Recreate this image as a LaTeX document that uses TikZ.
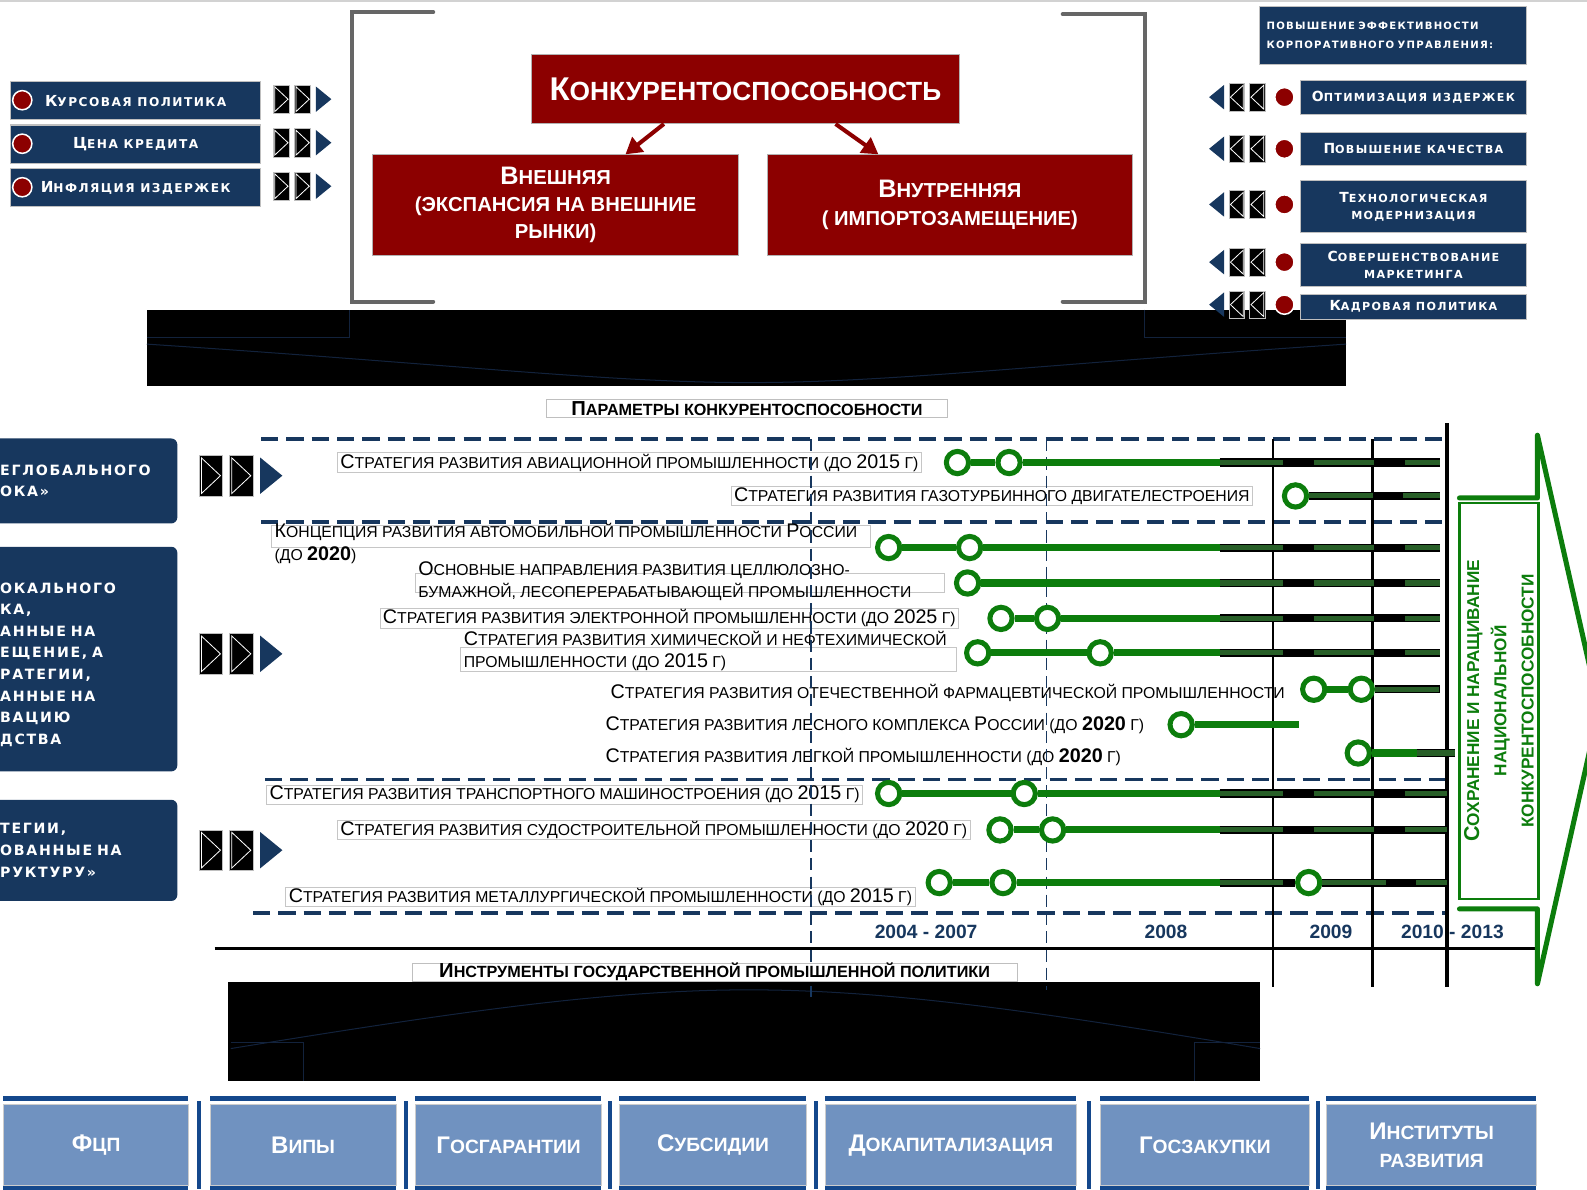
\documentclass[tikz,border=0pt]{standalone}
\usepackage{fontspec}
\setmainfont{Liberation Sans}
\newfontfamily\widefont{DejaVu Sans}[LetterSpace=12]
\usetikzlibrary{calc,arrows.meta}
\definecolor{dnavy}{RGB}{23,55,94}
\definecolor{dred}{RGB}{140,0,0}
\definecolor{lgreen}{RGB}{12,125,12}
\definecolor{hgreen}{RGB}{40,95,40}
\definecolor{steel}{RGB}{112,146,192}
\definecolor{barblue}{RGB}{20,72,140}
\definecolor{faint}{RGB}{18,34,60}
\newcommand\capx[1]{\scalebox{1.25}{#1}}
\tikzset{
    navbox/.style={fill=dnavy, draw=gray!50, line width=1, text=white, align=center, inner sep=0, anchor=north west, font=\widefont\bfseries\fontsize{11}{17}\selectfont},
    sidebox/.style={fill=dnavy, rounded corners=6, text=white, align=left, anchor=north west, inner xsep=10, inner ysep=0, text width=165, font=\widefont\bfseries\fontsize{14}{21.3}\selectfont},
    redbox/.style={fill=dred, draw=gray!60, line width=1, text=white, align=center, inner sep=0, font=\bfseries\fontsize{20}{27}\selectfont},
    rdot/.style={circle, fill=dred, draw=white, line width=1.5, minimum size=19, inner sep=0},
    gdot/.style={circle, draw=lgreen, line width=5, fill=white, minimum size=22, inner sep=0},
    lbl/.style={draw=gray!45, line width=0.6, fill=white, anchor=west, inner xsep=3, inner ysep=1, font=\fontsize{15.6}{22}\selectfont},
    frame/.style={draw=gray!45, line width=0.6, fill=white},
    gline/.style={lgreen, line width=7},
    hline/.style={black, line width=8, postaction={draw=hgreen, line width=5, dash pattern=on 63pt off 30pt on 60pt off 30pt on 60pt}},
    hdash/.style={dnavy, line width=3.5, dash pattern=on 17pt off 8pt},
    vdash/.style={dnavy, line width=1.8, dash pattern=on 12pt off 6pt},
    rarrow/.style={dred, line width=4, -{Triangle[length=16pt, width=18pt]}},
    yrs/.style={text=dnavy, font=\bfseries\fontsize{19}{20}\selectfont},
    plabel/.style={draw=gray!50, fill=white, inner sep=0, minimum height=18, font=\bfseries\fontsize{16}{18}\selectfont},
    toolbox/.style={fill=steel, draw=gray!40, line width=1, text=white, align=center, anchor=north west, minimum height=80, inner sep=0, font=\bfseries\fontsize{19}{28}\selectfont},
    fwd/.pic={
        \fill[black, draw=gray!50, line width=0.6] (0,-0.5) rectangle (0.57,0.5);
        \fill[black, draw=gray!50, line width=0.6] (0.75,-0.5) rectangle (1.32,0.5);
        \draw[white, line width=0.8] (0.05,-0.44) -- (0.52,0) -- (0.05,0.44) -- cycle;
        \draw[white, line width=0.8] (0.80,-0.44) -- (1.27,0) -- (0.80,0.44) -- cycle;
        \fill[dnavy] (1.5,-0.45) -- (2.05,0) -- (1.5,0.45) -- cycle;
    }
}

\begin{document}
\begin{tikzpicture}[x=1pt,y=-1pt]
\useasboundingbox (0,0) rectangle (1568,1175);
\clip (0,0) rectangle (1568,1175);
\draw[gray!35, line width=2] (0,1) -- (1568,1);

\fill[black] (145,306) rectangle (1330,381);
\draw[faint, line width=1] (145,333) -- (345,333) -- (345,306);
\draw[faint, line width=1] (1131,306) -- (1131,333) -- (1330,333);
\draw[faint, line width=1] (145,340) .. controls (450,360) and (600,378) .. (740,378) .. controls (880,378) and (1030,360) .. (1330,340);
\fill[black] (225,970) rectangle (1245,1068);
\draw[faint, line width=1] (228,1030) -- (300,1030) -- (300,1068);
\draw[faint, line width=1] (1245,1030) -- (1180,1030) -- (1180,1068);
\draw[faint, line width=1] (228,1036) .. controls (450,1000) and (600,978) .. (740,978) .. controls (880,978) and (1030,1000) .. (1245,1036);

\draw[gray!80!black, line width=4, line cap=round] (428,12) -- (348,12) -- (348,298) -- (428,298);
\draw[gray!80!black, line width=4, line cap=round] (1050,14) -- (1131,14) -- (1131,298) -- (1050,298);

\node[navbox, minimum width=247, minimum height=38, font=\widefont\bfseries\fontsize{12}{14}\selectfont] (kurs) at (10,80) {\capx{К}УРСОВАЯ ПОЛИТИКА};
\node[navbox, minimum width=247, minimum height=38, font=\widefont\bfseries\fontsize{12}{14}\selectfont] (kred) at (10,123) {\capx{Ц}ЕНА КРЕДИТА};
\node[navbox, minimum width=247, minimum height=38, font=\widefont\bfseries\fontsize{12}{14}\selectfont] (infl) at (10,166) {\capx{И}НФЛЯЦИЯ ИЗДЕРЖЕК};
\node[rdot] (r1) at (22,99) {};
\node[rdot] (r2) at (22,142) {};
\node[rdot] (r3) at (22,185) {};
\pic[scale=28] at (270,98) {fwd};
\pic[scale=28] at (270,141) {fwd};
\pic[scale=28] at (270,184) {fwd};

\node[redbox, minimum width=423, minimum height=68, font=\bfseries\fontsize{26}{28}\selectfont] (konk) at (736.5,88) {\capx{К}ОНКУРЕНТОСПОСОБНОСТЬ};
\node[redbox, minimum width=362, minimum height=99] (vnesh) at (549,202.5) {\capx{В}НЕШНЯЯ\\(ЭКСПАНСИЯ НА ВНЕШНИЕ\\РЫНКИ)};
\node[redbox, minimum width=361, minimum height=99] (vnutr) at (938.5,202.5) {\capx{В}НУТРЕННЯЯ\\( ИМПОРТОЗАМЕЩЕНИЕ)};
\draw[rarrow] ($(konk.south west)!0.31!(konk.south east)$) -- ($(vnesh.north west)!0.69!(vnesh.north east)$);
\draw[rarrow] ($(konk.south west)!0.71!(konk.south east)$) -- ($(vnutr.north west)!0.305!(vnutr.north east)$);

\node[navbox, minimum width=264, minimum height=57, text width=250, align=left, font=\widefont\bfseries\fontsize{10}{18}\selectfont] (corp) at (1244,6) {ПОВЫШЕНИЕ ЭФФЕКТИВНОСТИ\\КОРПОРАТИВНОГО УПРАВЛЕНИЯ:};
\node[navbox, minimum width=224, minimum height=34] (opt) at (1284,79) {\capx{О}ПТИМИЗАЦИЯ ИЗДЕРЖЕК};
\node[navbox, minimum width=224, minimum height=33] (kach) at (1284,130) {\capx{П}ОВЫШЕНИЕ КАЧЕСТВА};
\node[navbox, minimum width=224, minimum height=51] (tech) at (1284,178) {\capx{Т}ЕХНОЛОГИЧЕСКАЯ\\МОДЕРНИЗАЦИЯ};
\node[navbox, minimum width=224, minimum height=43] (mark) at (1284,240) {\capx{С}ОВЕРШЕНСТВОВАНИЕ\\МАРКЕТИНГА};
\node[navbox, minimum width=224, minimum height=25] (kadr) at (1284,290) {\capx{К}АДРОВАЯ ПОЛИТИКА};
\foreach \y [count=\i] in {96,147,202,259,301} {
    \node[rdot] (q\i) at (1269,\y) {};
    \pic[scale=27, xscale=-1] at (1250,\y) {fwd};
}

\node[plabel, minimum width=396] (param) at (738,403.5) {\capx{П}АРАМЕТРЫ КОНКУРЕНТОСПОСОБНОСТИ};

\node[sidebox, minimum height=84] (glob) at (-10,433) {ЕГЛОБАЛЬНОГО\\ОКА»};
\node[sidebox, minimum height=222] (lok) at (-10,540) {\\ОКАЛЬНОГО\\КА,\\АННЫЕ НА\\ЕЩЕНИЕ, А\\РАТЕГИИ,\\АННЫЕ НА\\ВАЦИЮ\\ДСТВА};
\node[sidebox, minimum height=100] (infr) at (-10,790) {ТЕГИИ,\\ОВАННЫЕ НА\\РУКТУРУ»};
\pic[scale=40] at (197,470) {fwd};
\pic[scale=40] at (197,646) {fwd};
\pic[scale=40] at (197,840) {fwd};

\draw[hdash] (258,434) -- (1428,434);
\draw[hdash] (258,516) -- (1428,516);
\draw[hdash] (262,770) -- (1428,770);
\draw[hdash] (250,902) -- (1428,902);

\node[lbl] (s1) at (333,457) {\capx{С}ТРАТЕГИЯ РАЗВИТИЯ АВИАЦИОННОЙ ПРОМЫШЛЕННОСТИ (ДО \capx{2015} Г)};
\node[lbl] (s2) at (722,490) {\capx{С}ТРАТЕГИЯ РАЗВИТИЯ ГАЗОТУРБИННОГО ДВИГАТЕЛЕСТРОЕНИЯ};
\draw[frame] (268,519) rectangle (860,541);
\node[lbl, draw=none, fill=none, align=left] (s3) at (268,537) {\capx{К}ОНЦЕПЦИЯ РАЗВИТИЯ АВТОМОБИЛЬНОЙ ПРОМЫШЛЕННОСТИ \capx{Р}ОССИИ\\(ДО \capx{\bfseries 2020})};
\draw[frame] (410,566) rectangle (933,585);
\node[lbl, draw=none, fill=none, align=left] (s4) at (410,574) {\capx{О}СНОВНЫЕ НАПРАВЛЕНИЯ РАЗВИТИЯ ЦЕЛЛЮЛОЗНО-\\БУМАЖНОЙ, ЛЕСОПЕРЕРАБАТЫВАЮЩЕЙ ПРОМЫШЛЕННОСТИ};
\node[lbl] (s5) at (375,611) {\capx{С}ТРАТЕГИЯ РАЗВИТИЯ ЭЛЕКТРОННОЙ ПРОМЫШЛЕННОСТИ (ДО \capx{2025} Г)};
\draw[frame] (455,640) rectangle (945,663);
\node[lbl, draw=none, fill=none, align=left] (s6) at (455,643) {\capx{С}ТРАТЕГИЯ РАЗВИТИЯ ХИМИЧЕСКОЙ И НЕФТЕХИМИЧЕСКОЙ\\ПРОМЫШЛЕННОСТИ (ДО \capx{2015} Г)};
\node[lbl, draw=none, fill=none] (s7) at (600,685) {\capx{С}ТРАТЕГИЯ РАЗВИТИЯ ОТЕЧЕСТВЕННОЙ ФАРМАЦЕВТИЧЕСКОЙ ПРОМЫШЛЕННОСТИ};
\node[lbl, draw=none, fill=none] (s8) at (595,717) {\capx{С}ТРАТЕГИЯ РАЗВИТИЯ ЛЕСНОГО КОМПЛЕКСА \capx{Р}ОССИИ (ДО \capx{\bfseries 2020} Г)};
\node[lbl, draw=none, fill=none] (s9) at (595,748) {\capx{С}ТРАТЕГИЯ РАЗВИТИЯ ЛЕГКОЙ ПРОМЫШЛЕННОСТИ (ДО \capx{\bfseries 2020} Г)};
\node[lbl] (s10) at (263,785) {\capx{С}ТРАТЕГИЯ РАЗВИТИЯ ТРАНСПОРТНОГО МАШИНОСТРОЕНИЯ (ДО \capx{2015} Г)};
\node[lbl] (s11) at (333,820) {\capx{С}ТРАТЕГИЯ РАЗВИТИЯ СУДОСТРОИТЕЛЬНОЙ ПРОМЫШЛЕННОСТИ (ДО \capx{2020} Г)};
\node[lbl] (s12) at (282,886) {\capx{С}ТРАТЕГИЯ РАЗВИТИЯ МЕТАЛЛУРГИЧЕСКОЙ ПРОМЫШЛЕННОСТИ (ДО \capx{2015} Г)};

\node[yrs] (y1) at (915,921) {2004 - 2007};
\node[yrs] (y2) at (1152,921) {2008};
\node[yrs] (y3) at (1315,921) {2009};
\node[yrs] (y4) at (1435,921) {2010 - 2013};

\draw[vdash] (801,434) -- (801,985);
\draw[vdash] (1034,434) -- (1034,978);
\draw[line width=2.2] (1258,434) -- (1258,975);
\draw[line width=2.2] (1356,434) -- (1356,975);
\draw[line width=4] (1430,418) -- (1430,975);
\draw[line width=3.5] (212,937) -- (1520,937);

\foreach \y/\p/\q/\e in {457/946/997/1423, 541/878/958/1423, 611/989/1035/1423, 645/966/1087/1423, 784/878/1012/1430, 820/988/1040/1430} {
    \node[gdot] (a\y) at (\p,\y) {};
    \node[gdot] (b\y) at (\q,\y) {};
    \coordinate (h\y) at (1205,\y);
    \coordinate (e\y) at (\e,\y);
    \draw[gline] (a\y) -- (b\y);
    \draw[gline] (b\y) -- (h\y);
    \draw[hline] (h\y) -- (e\y);
}
\node[gdot] (a490) at (1280,490) {};
\coordinate (e490) at (1423,490);
\draw[hline] (a490) -- (e490);
\node[gdot] (a576) at (956,576) {};
\coordinate (h576) at (1205,576);
\coordinate (e576) at (1423,576);
\draw[gline] (a576) -- (h576);
\draw[hline] (h576) -- (e576);
\node[gdot] (a681) at (1298,681) {};
\node[gdot] (b681) at (1345,681) {};
\coordinate (e681) at (1423,681);
\draw[gline] (a681) -- (b681);
\draw[hline] (b681) -- (e681);
\node[gdot] (a716) at (1167,716) {};
\coordinate (e716) at (1283,716);
\draw[gline] (a716) -- (e716);
\node[gdot] (a744) at (1342,744) {};
\coordinate (h744) at (1400,744);
\coordinate (e744) at (1438,744);
\draw[gline] (a744) -- (h744);
\draw[hline] (h744) -- (e744);
\node[gdot] (a872) at (928,872) {};
\node[gdot] (b872) at (991,872) {};
\node[gdot] (c872) at (1293,872) {};
\coordinate (h872) at (1205,872);
\coordinate (e872) at (1430,872);
\draw[gline] (a872) -- (b872);
\draw[gline] (b872) -- (h872);
\draw[hline] (h872) -- (c872);
\draw[hline] (c872) -- (e872);

\node[draw=lgreen, line width=2.5, rotate=90, minimum width=391, minimum height=78, inner sep=0, text=lgreen, align=center, font=\bfseries\fontsize{17}{27}\selectfont] (keep) at (1481,692.5) {\capx{С}ОХРАНЕНИЕ И НАРАЩИВАНИЕ\\НАЦИОНАЛЬНОЙ\\КОНКУРЕНТОСПОСОБНОСТИ};
\draw[lgreen, line width=5, line join=round, line cap=round] (1442,492) -- (1519,492) -- (1519,430) -- (1580,700) -- (1519,972) -- (1519,898) -- (1442,898);

\node[plabel, minimum width=598] (instr) at (706,960.5) {\capx{И}НСТРУМЕНТЫ ГОСУДАРСТВЕННОЙ ПРОМЫШЛЕННОЙ ПОЛИТИКИ};

\foreach \x/\w/\t [count=\i] in {3/183/{\capx{Ф}ЦП}, 207/184/{\capx{В}ИПЫ}, 410/184/{\capx{Г}ОСГАРАНТИИ}, 612/184/{\capx{С}УБСИДИИ}, 815/248/{\capx{Д}ОКАПИТАЛИЗАЦИЯ}, 1087/206/{\capx{Г}ОСЗАКУПКИ}, 1310/208/{\capx{И}НСТИТУТЫ\\РАЗВИТИЯ}} {
    \fill[barblue] (\x,1083) rectangle ++(\w,5);
    \node[toolbox, minimum width=\w] (t\i) at (\x,1091) {\t};
    \fill[barblue] (\x,1172) rectangle ++(\w,5);
}
\foreach \x in {197,401,603,806,1076,1302}
    \fill[barblue] (\x-2,1088) rectangle (\x+2,1175);
\end{tikzpicture}
\end{document}
